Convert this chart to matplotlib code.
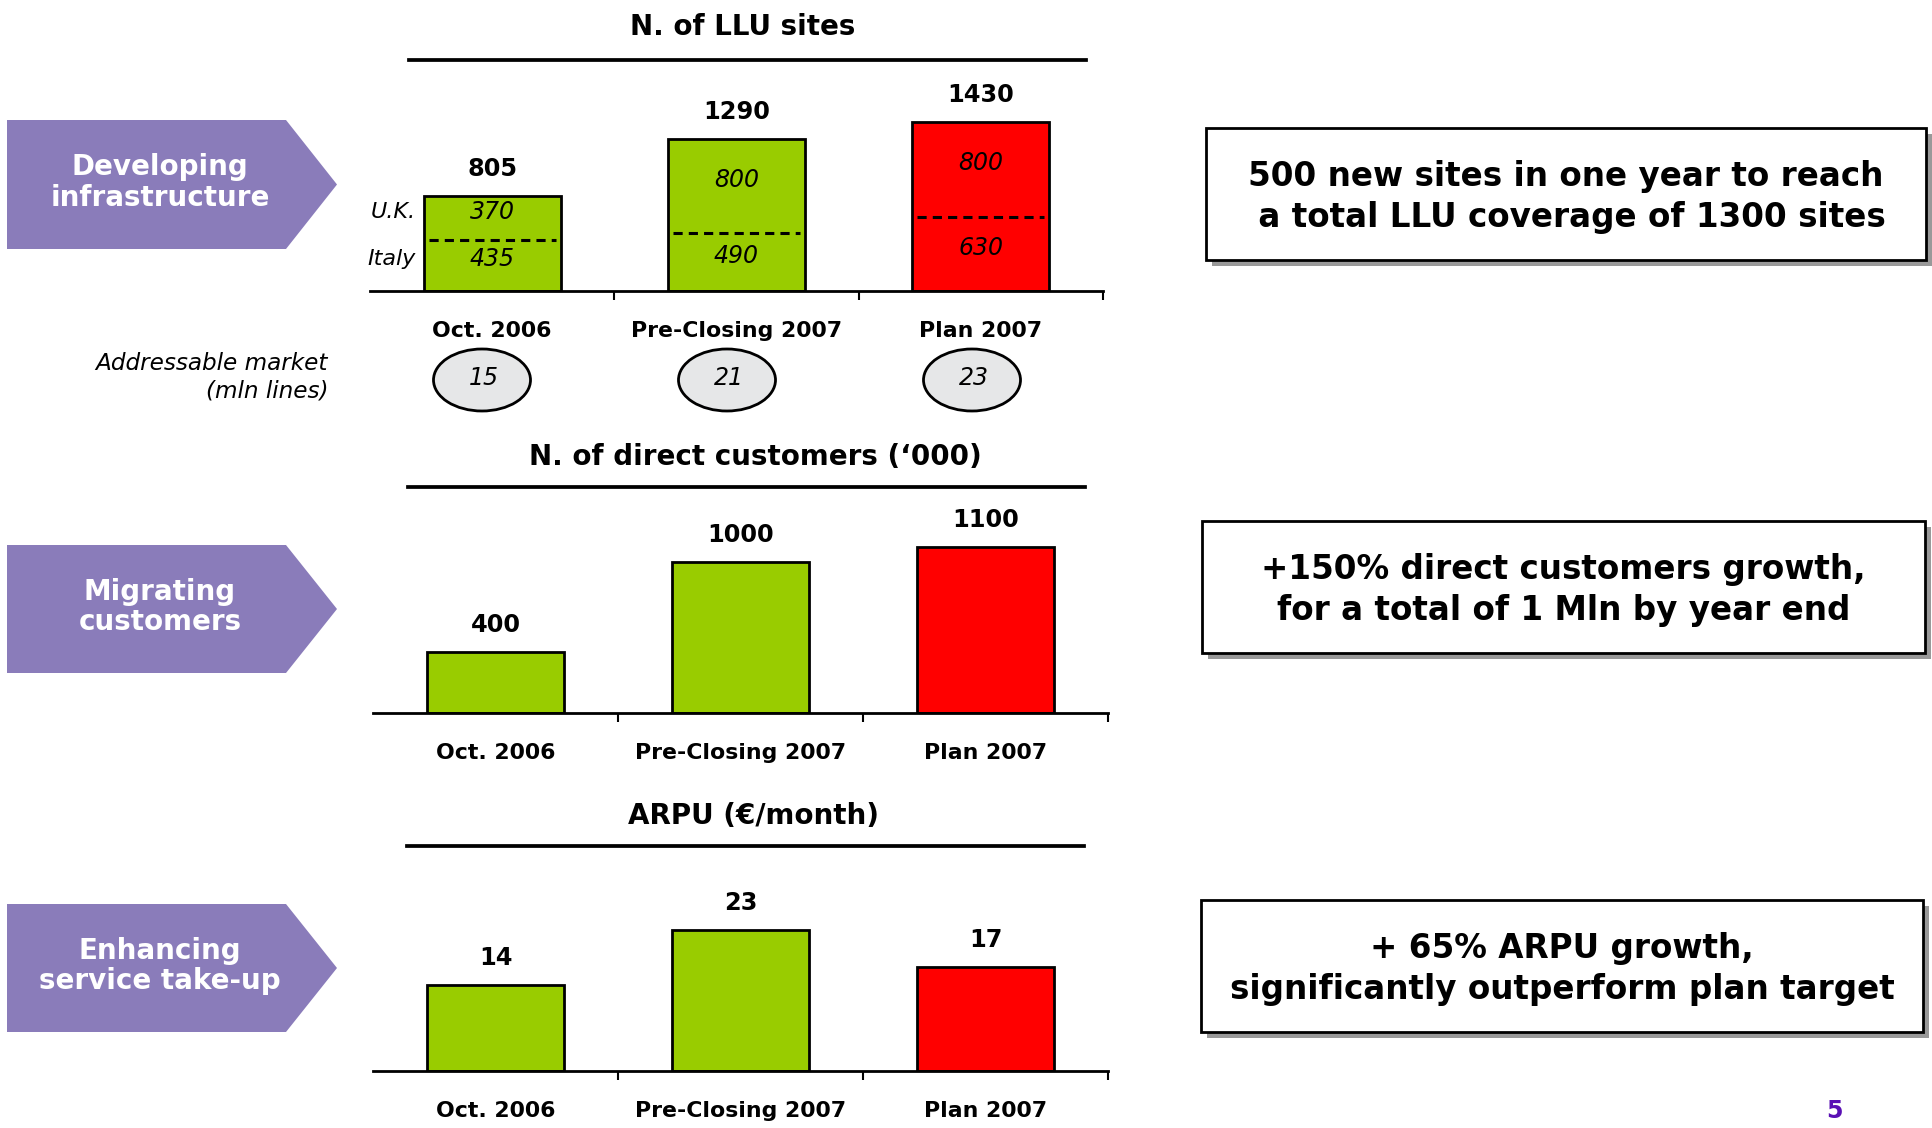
import matplotlib
matplotlib.use("Agg")
import matplotlib.pyplot as plt
from matplotlib.patches import Polygon, Rectangle, Ellipse
from matplotlib.lines import Line2D

# Datos
categories = ["Oct. 2006", "Pre-Closing 2007", "Plan 2007"]
llu_italy = [435, 490, 630]
llu_uk = [370, 800, 800]
llu_total = [805, 1290, 1430]
addressable = [15, 21, 23]
customers = [400, 1000, 1100]
arpu = [14, 23, 17]

GREEN = "#99cc00"
RED = "#ff0000"
PURPLE = "#8a7cba"
bar_colors = [GREEN, GREEN, RED]

W, H = 1933, 1128
fig = plt.figure(figsize=(W / 100, H / 100), dpi=100)
fig.patch.set_facecolor("white")


def fx(x):
    return x / W


def fy(y):
    return 1 - y / H


def make_axes(left, width, base, ppu, top):
    height = top * ppu
    ax = fig.add_axes([fx(left), fy(base), width / W, height / H])
    ax.set_xlim(-0.5, 2.5)
    ax.set_ylim(0, top)
    for s in ["top", "right", "left"]:
        ax.spines[s].set_visible(False)
    ax.spines["bottom"].set_linewidth(2)
    ax.set_yticks([])
    ax.set_xticks([0.5, 1.5, 2.5])
    ax.set_xticklabels(["", "", ""])
    ax.tick_params(axis="x", length=6.5, width=1.5, direction="out")
    ax.patch.set_alpha(0)
    for i, c in enumerate(categories):
        ax.annotate(c, (i, 0), xytext=(0, -40), textcoords="offset pixels",
                    ha="center", va="center", fontsize=15.8, fontweight="bold")
    return ax


def value_labels(ax, vals):
    for i, v in enumerate(vals):
        ax.annotate(str(v), (i, v), xytext=(0, 27), textcoords="offset pixels",
                    ha="center", va="center", fontsize=17.3, fontweight="bold")


def title(text, x, y, x0, x1, yl):
    fig.text(fx(x), fy(y), text, ha="center", va="center",
             fontsize=20, fontweight="bold")
    fig.add_artist(Line2D([fx(x0), fx(x1)], [fy(yl), fy(yl)], color="black",
                          lw=2.7, transform=fig.transFigure))


def arrow(text, y0, y1):
    ym = (y0 + y1) / 2
    pts = [(7, y0), (286, y0), (337, ym), (286, y1), (7, y1)]
    fig.add_artist(Polygon([(fx(a), fy(b)) for a, b in pts], closed=True,
                           facecolor=PURPLE, edgecolor="none",
                           transform=fig.transFigure))
    fig.text(fx(160), fy(ym - 2), text, ha="center", va="center", color="white",
             fontsize=20, fontweight="bold", linespacing=1.12)


def note_box(text, x0, y0, x1, y1):
    sh = 6
    fig.add_artist(Rectangle((fx(x0 + sh), fy(y1 + sh)), (x1 - x0) / W,
                             (y1 - y0) / H, facecolor="#999999",
                             edgecolor="none", transform=fig.transFigure))
    fig.add_artist(Rectangle((fx(x0), fy(y1)), (x1 - x0) / W, (y1 - y0) / H,
                             facecolor="white", edgecolor="black", lw=2,
                             transform=fig.transFigure))
    fig.text(fx((x0 + x1) / 2), fy((y0 + y1) / 2 + 3), text, ha="center",
             va="center", fontsize=23.5, fontweight="bold", linespacing=1.3)


w = 0.56
x = range(3)

# N. of LLU sites
title("N. of LLU sites", 743, 27, 409, 1086, 60)
ax1 = make_axes(370, 733, 291, 0.118, 1600)
ax1.bar(x, llu_italy, w, color=bar_colors, edgecolor="none")
ax1.bar(x, llu_uk, w, bottom=llu_italy, color=bar_colors, edgecolor="none")
ax1.bar(x, llu_total, w, fill=False, edgecolor="black", lw=2)
for i in x:
    ax1.plot([i - w / 2 + 0.02, i + w / 2 - 0.02], [llu_italy[i]] * 2,
             color="black", lw=2.2, ls=(0, (3, 2)))
    ax1.annotate(str(llu_italy[i]), (i, llu_italy[i] / 2), xytext=(0, 6),
                 textcoords="offset pixels", ha="center", va="center",
                 fontsize=17, style="italic")
    ax1.annotate(str(llu_uk[i]), (i, llu_italy[i] + llu_uk[i] / 2),
                 xytext=(0, 6), textcoords="offset pixels", ha="center",
                 va="center", fontsize=17, style="italic")
ax1.annotate("U.K.", (-w / 2, llu_italy[0] + llu_uk[0] / 2), xytext=(-8, 6),
             textcoords="offset pixels", ha="right", va="center",
             fontsize=16, style="italic")
ax1.annotate("Italy", (-w / 2, llu_italy[0] / 2), xytext=(-8, 6),
             textcoords="offset pixels", ha="right", va="center",
             fontsize=16, style="italic")
value_labels(ax1, llu_total)

# Addressable market
fig.text(fx(328), fy(377), "Addressable market\n(mln lines)", ha="right",
         va="center", fontsize=16.7, style="italic", linespacing=1.25)
for i, v in enumerate(addressable):
    cx = 482 + i * 245
    fig.add_artist(Ellipse((fx(cx), fy(380)), 97 / W, 62 / H,
                           facecolor="#e6e7e8", edgecolor="black", lw=2,
                           transform=fig.transFigure))
    fig.text(fx(cx + 2), fy(378), str(v), ha="center", va="center",
             fontsize=17, style="italic")

# N. of direct customers
title("N. of direct customers (\u2018000)", 755, 457, 408, 1085, 487)
ax2 = make_axes(373, 735, 712.6, 0.151, 1300)
ax2.bar(x, customers, w, color=bar_colors, edgecolor="black", lw=2)
value_labels(ax2, customers)

# ARPU
title("ARPU (\u20ac/month)", 754, 816, 407, 1084, 845.7)
ax3 = make_axes(373, 735, 1071.3, 6.16, 30)
ax3.bar(x, arpu, w, color=bar_colors, edgecolor="black", lw=2)
value_labels(ax3, arpu)

# Flechas
arrow("Developing\ninfrastructure", 120, 249)
arrow("Migrating\ncustomers", 545, 673)
arrow("Enhancing\nservice take-up", 904, 1032)

# Cuadros de texto
note_box("500 new sites in one year to reach\n a total LLU coverage of 1300 sites",
         1206, 128, 1926, 260)
note_box("+150% direct customers growth,\nfor a total of 1 Mln by year end",
         1202, 521, 1925, 653)
note_box("+ 65% ARPU growth,\nsignificantly outperform plan target",
         1201, 900, 1923, 1032)

fig.text(fx(1834), fy(1111), "5", ha="center", va="center", fontsize=17,
         fontweight="bold", color="#5a10b4")

fig.savefig("out.png", dpi=100)
